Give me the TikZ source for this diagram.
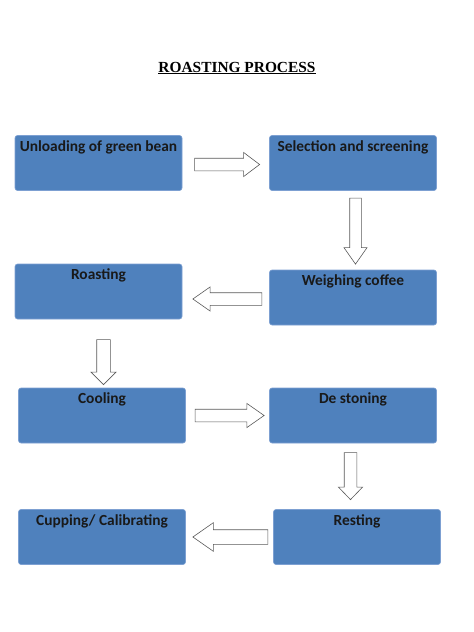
\documentclass[tikz,border=0pt]{standalone}
\usepackage{fontspec}
\setmainfont{Liberation Serif}
\newfontfamily\boxfont{Carlito}
\usetikzlibrary{positioning, shapes.arrows}
\definecolor{boxblue}{RGB}{79,129,189}
\definecolor{boxedge}{RGB}{125,160,210}
\definecolor{arrowgray}{RGB}{90,90,90}

\begin{document}
\begin{tikzpicture}[
            x = 1pt, y = -1pt, % page measured in pixels, y downwards
            node distance = 12pt, % gap between box and arrow
            semithick % line style
        ]

        \tikzstyle{process}=[
            draw = boxedge,
            line width = 0.6pt,
            fill = boxblue,
            rounded corners = 2.5pt,
            inner sep = 0pt,
            minimum width = 167pt,
            text height = 15.5pt,
            text depth = 39.5pt,
            font = \boxfont\bfseries\fontsize{15.4}{18}\selectfont,
            text = black!90
        ]
        \tikzstyle{flow}=[
            single arrow,
            draw = arrowgray,
            line width = 0.6pt,
            fill = white,
            inner xsep = 0pt,
            inner ysep = 6pt, % half the shaft
            single arrow head extend = 5.75pt,
            single arrow tip angle = 70
        ]
        \tikzstyle{downflow}=[
            flow,
            shape border rotate = 270,
            inner xsep = 6pt, % half the shaft, turned
            inner ysep = 0pt
        ]

        \useasboundingbox (0,0) rectangle (474,632);

        \node[font=\bfseries\fontsize{15.4}{18}\selectfont, anchor=base] (title) at (237,72) {\underline{ROASTING PROCESS}};

        \node[process] (unload) at (98.5,163) {Unloading of green bean};
        \node[process] (select) at (353,163) {Selection and screening};
        \node[process] (roast) at (98.5,291.5) {Roasting};
        \node[process] (weigh) at (353,297.5) {Weighing coffee};
        \node[process] (cool) at (102,415.5) {Cooling};
        \node[process] (destone) at (353,415.5) {De stoning};
        \node[process] (cup) at (102,537) {Cupping/ Calibrating};
        \node[process] (rest) at (357,537) {Resting};

        % block arrows between the steps
        \node[flow, minimum height=65pt, single arrow tip angle=74] (a1) [right=12pt of unload, yshift=-1.5pt] {};
        \node[downflow, minimum height=66pt, inner xsep=5.5pt] (a2) [below=7pt of select, xshift=2.5pt] {};
        \node[flow, minimum height=69pt, shape border rotate=180] (a3) [left=7pt of weigh, yshift=-1.5pt] {};
        \node[downflow, minimum height=45pt, inner xsep=6.5pt, single arrow tip angle=90] (a4) [below=20pt of roast, xshift=5pt] {};
        \node[flow, minimum height=69pt] (a5) [right=9pt of cool] {};
        \node[downflow, minimum height=47pt, single arrow tip angle=88] (a6) [below=9pt of destone, xshift=-2.5pt] {};
        \node[flow, minimum height=75pt, shape border rotate=180, inner ysep=7pt, single arrow head extend=7pt] (a7) [left=5pt of rest] {};
    \end{tikzpicture}
\end{document}
